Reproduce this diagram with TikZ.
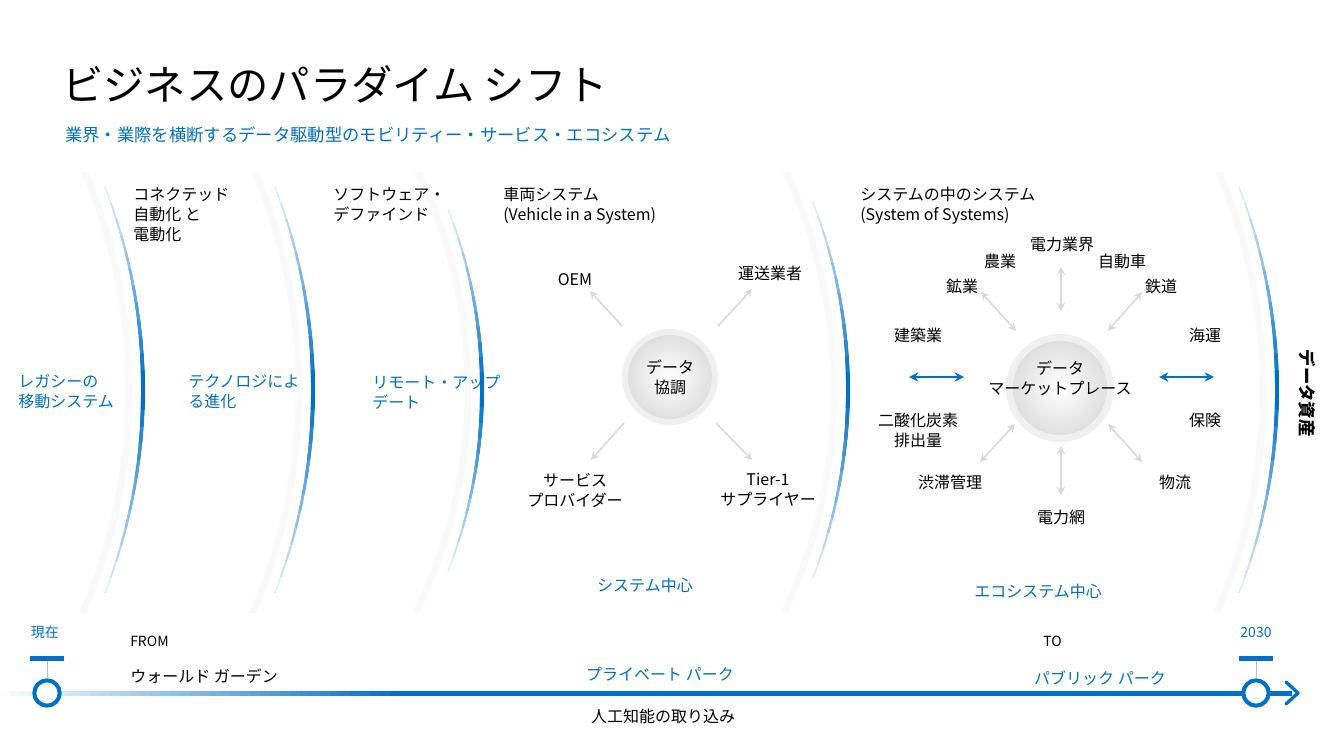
\documentclass[tikz,border=0pt]{standalone}
\usepackage{fontspec}
\setmainfont{Noto Sans CJK JP}
\usetikzlibrary{arrows.meta,shadings}
\definecolor{mblue}{RGB}{0,112,200}
\tikzset{
  txt/.style={font=\fontsize{12}{15}\selectfont, align=left, inner sep=0pt},
  btxt/.style={txt, text=mblue},
  garrow/.style={draw=gray!30, line width=1.2pt, -{Stealth[length=6pt,width=6pt]}},
  gdarrow/.style={draw=gray!30, line width=1.2pt, {Stealth[length=6pt,width=6pt]}-{Stealth[length=6pt,width=6pt]}},
  barrow/.style={draw=mblue, line width=2pt, {Stealth[length=7pt,width=7pt]}-{Stealth[length=7pt,width=7pt]}},
}
\newcommand{\myarc}[2]{% apex x, radius
  \pgfmathsetmacro{\cx}{#1-#2}
  \begin{scope}
  \clip (0,172) rectangle (1334,612);
  \draw[gray!4, line width=5pt] (\cx-14,390) ++(-30:#2) arc[start angle=-30,end angle=30,radius=#2];
  \end{scope}
  \foreach \i in {1,...,12}{
    \pgfmathsetmacro{\ang}{23-1.75*\i}
    \pgfmathsetmacro{\pc}{int(8*\i+4)}
    \pgfmathsetmacro{\lw}{0.9+0.17*\i}
    \draw[mblue!\pc!white, line width=\lw pt] (\cx,390) ++(-\ang:#2) arc[start angle=-\ang,end angle=\ang,radius=#2];
  }
}
\begin{document}
\begin{tikzpicture}[x=0.75pt,y=-0.75pt]
\useasboundingbox[fill=white] (0,0) rectangle (1334,750);
\myarc{143}{560}
\myarc{313}{560}
\myarc{482}{500}
\myarc{848}{520}
\myarc{1277}{560}

\node[anchor=base west, inner sep=0pt, font=\fontsize{31}{31}\selectfont] (title) at (62,100) {ビジネスのパラダイム シフト};
\node[anchor=base west, inner sep=0pt, text=mblue, font=\fontsize{13}{16}\selectfont] (sub) at (65,141) {業界・業際を横断するデータ駆動型のモビリティー・サービス・エコシステム};

\node[txt, anchor=north west] (h1) at (133,187) {コネクテッド\\自動化 と\\電動化};
\node[txt, anchor=north west] (h2) at (333,187) {ソフトウェア・\\デファインド};
\node[txt, anchor=north west] (h3) at (503,187) {車両システム\\ (Vehicle in a System)};
\node[txt, anchor=north west] (h4) at (860,187) {システムの中のシステム\\(System of Systems)};

\node[btxt, anchor=west] (b1) at (18,392) {レガシーの\\移動システム};
\node[btxt, anchor=west] (b2) at (188,392) {テクノロジによ\\る進化};
\node[btxt, anchor=west] (b3) at (372,392) {リモート・アップ\\デート};

% data coordination
\fill[gray!12] (670,377) circle (48);
\shade[inner color=white, outer color=gray!25] (670,377) circle (42);
\node[txt, align=center] (dc) at (670,377) {データ\\協調};
\node[txt] (oem) at (575,280) {OEM};
\node[txt] (unso) at (770,273) {運送業者};
\node[txt, align=center] (sp) at (575,490) {サービス\\プロバイダー};
\node[txt, align=center] (t1) at (768,490) {Tier-1\\サプライヤー};
\coordinate (c1a) at (622,326); \coordinate (c1b) at (590,291);
\coordinate (c2a) at (718,326); \coordinate (c2b) at (752,289);
\coordinate (c3a) at (624,423); \coordinate (c3b) at (591,460);
\coordinate (c4a) at (716,423); \coordinate (c4b) at (752,460);
\draw[garrow] (c1a) -- (c1b);
\draw[garrow] (c2a) -- (c2b);
\draw[garrow] (c3a) -- (c3b);
\draw[garrow] (c4a) -- (c4b);
\node[btxt] (sc) at (645,585) {システム中心};

% marketplace
\fill[gray!12] (1060,388) circle (54);
\shade[inner color=white, outer color=gray!25] (1060,388) circle (47);
\node[txt, align=center] (mp) at (1060,378) {データ\\マーケットプレース};
\node[txt] (m1) at (1062,244) {電力業界};
\node[txt] (m2) at (1000,261) {農業};
\node[txt] (m3) at (1122,261) {自動車};
\node[txt] (m4) at (962,286) {鉱業};
\node[txt] (m5) at (1161,286) {鉄道};
\node[txt] (m6) at (918,335) {建築業};
\node[txt] (m7) at (1205,335) {海運};
\node[txt, align=center] (m8) at (918,430) {二酸化炭素\\排出量};
\node[txt] (m9) at (1205,420) {保険};
\node[txt] (m10) at (950,482) {渋滞管理};
\node[txt] (m11) at (1175,482) {物流};
\node[txt] (m12) at (1061,517) {電力網};
\coordinate (d1a) at (1061,267); \coordinate (d1b) at (1061,311);
\coordinate (d2a) at (1061,446); \coordinate (d2b) at (1061,495);
\coordinate (d3a) at (981,292); \coordinate (d3b) at (1016,331);
\coordinate (d4a) at (1142,292); \coordinate (d4b) at (1108,331);
\coordinate (d5a) at (980,462); \coordinate (d5b) at (1015,424);
\coordinate (d6a) at (1142,462); \coordinate (d6b) at (1108,424);
\foreach \i in {1,...,6}{\draw[gdarrow] (d\i a) -- (d\i b);}
\coordinate (e1a) at (909,377); \coordinate (e1b) at (964,377);
\coordinate (e2a) at (1159,377); \coordinate (e2b) at (1214,377);
\draw[barrow] (e1a) -- (e1b);
\draw[barrow] (e2a) -- (e2b);
\node[btxt] (ec) at (1038,591) {エコシステム中心};
\node[rotate=-90, inner sep=0pt, font=\fontsize{13}{15}\selectfont\bfseries] (da) at (1307,393) {データ資産};

% timeline
\fill[mblue] (400,690.5) rectangle (1292,695.5);
\foreach \i in {0,...,39}{
  \pgfmathsetmacro{\pc}{int(2.5*\i+2)}
  \fill[mblue!\pc!white] (10*\i,690.5) rectangle (10*\i+10.6,695.5);
}
\coordinate (tipa) at (1286,682); \coordinate (tipc) at (1298,693); \coordinate (tipb) at (1286,704);
\draw[mblue, line width=2.5pt, line cap=round, line join=round] (tipa) -- (tipc) -- (tipb);
\node[circle, draw=mblue, line width=3pt, fill=white, minimum size=19pt, inner sep=0pt] (now) at (47,693) {};
\node[circle, draw=mblue, line width=3pt, fill=white, minimum size=19pt, inner sep=0pt] (end) at (1256,693) {};
\fill[mblue] (30,656) rectangle (64,661);
\fill[mblue] (1239,656) rectangle (1273,661);
\coordinate (bar1) at (47,661); \coordinate (bar2) at (1256,661);
\draw[gray!50, line width=0.4pt] (bar1) -- (now.north);
\draw[gray!50, line width=0.4pt] (bar2) -- (end.north);
\node[btxt, font=\fontsize{10.5}{12}\selectfont] (gen) at (45,632) {現在};
\node[btxt, font=\fontsize{10.5}{12}\selectfont] (y30) at (1256,632) {2030};
\node[txt, anchor=west, font=\fontsize{10.5}{12}\selectfont] (from) at (130,641) {FROM};
\node[txt, anchor=west] (wg) at (130,676) {ウォールド ガーデン};
\node[btxt] (pp) at (660,674) {プライベート パーク};
\node[txt, anchor=west, font=\fontsize{10.5}{12}\selectfont] (to) at (1043,641) {TO};
\node[btxt] (pub) at (1100,678) {パブリック パーク};
\node[txt] (ai) at (663,716) {人工知能の取り込み};
\end{tikzpicture}
\end{document}
